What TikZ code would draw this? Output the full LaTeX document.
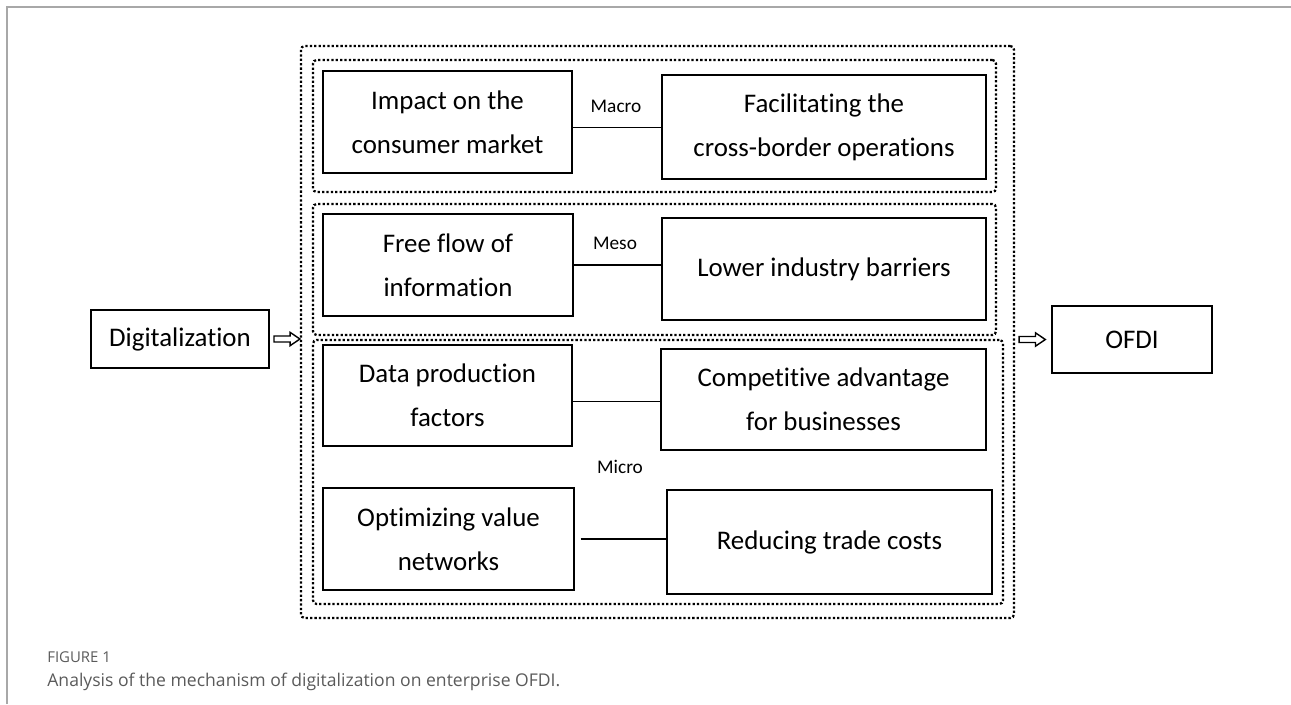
\documentclass[tikz,border=0pt]{standalone}
\usepackage{fontspec}
\setmainfont{Carlito}[Ligatures=NoCommon]
\newfontfamily\capfont{Open Sans}
\usetikzlibrary{arrows.meta}
\definecolor{capgray}{HTML}{5A5A5A}
\definecolor{framegray}{HTML}{A8A8A8}
\tikzset{
  box/.style={draw, line width=0.8pt, align=center, inner sep=0pt,
    font=\fontsize{15.3}{25}\selectfont},
  panel/.style={draw, line width=1.3pt, dash pattern=on 1.3pt off 1.2pt,
    rounded corners=2pt, inner sep=0pt},
  link/.style={line width=0.8pt},
  lvl/.style={font=\fontsize{11}{13}\selectfont},
  hollow/.style={line width=0.8pt, line join=miter, to path={
    ([yshift=1.7pt]\tikztostart) -- ([xshift=-5.6pt,yshift=1.7pt]\tikztotarget)
    -- ([xshift=-5.6pt,yshift=3.8pt]\tikztotarget) -- (\tikztotarget)
    -- ([xshift=-5.6pt,yshift=-3.8pt]\tikztotarget)
    -- ([xshift=-5.6pt,yshift=-1.7pt]\tikztotarget)
    -- ([yshift=-1.7pt]\tikztostart) -- cycle}},
  caption/.style={anchor=base west, inner sep=0pt, text=capgray}
}
\begin{document}
\begin{tikzpicture}[x=0.02cm, y=-0.02cm]
  \useasboundingbox (0,0) rectangle (1291,704);
  \draw[framegray, line width=0.6pt] (7,704) -- (7,7) -- (1291,7);

  % dotted frames
  \node[panel, minimum width=14.26cm, minimum height=11.44cm] (outer) at (657.5,332) {};
  \node[panel, minimum width=13.66cm, minimum height=2.64cm] (macro) at (654.5,126) {};
  \node[panel, minimum width=13.66cm, minimum height=2.62cm] (meso) at (654.5,269.5) {};
  \node[panel, minimum width=13.8cm, minimum height=5.28cm] (micro) at (658,472) {};

  % macro level
  \node[box, minimum width=4.98cm, minimum height=2.04cm] (impact) at (447.5,122)
    {Impact on the\\consumer market};
  \node[box, minimum width=6.48cm, minimum height=2.08cm] (facil) at (824,127)
    {Facilitating the\\cross-border operations};
  \draw[link] ([yshift=-3pt]impact.east) -- ([yshift=-3pt]impact.east -| facil.west);
  \node[lvl] (macrolbl) at (616,106) {Macro};

  % meso level
  \node[box, minimum width=5cm, minimum height=2.04cm] (free) at (448,265)
    {Free flow of\\information};
  \node[box, minimum width=6.48cm, minimum height=2.04cm] (lower) at (824,269)
    {Lower industry barriers};
  \draw[link] (free.east) -- (free.east -| lower.west);
  \node[lvl] (mesolbl) at (615,243) {Meso};

  % micro level
  \node[box, minimum width=4.98cm, minimum height=2.02cm] (data) at (447.5,395.5)
    {Data production\\factors};
  \node[box, minimum width=6.5cm, minimum height=2.02cm] (comp) at (823.5,399.5)
    {Competitive advantage\\for businesses};
  \draw[link] ([yshift=-3.5pt]data.east) -- ([yshift=-3.5pt]data.east -| comp.west);
  \node[lvl] (microlbl) at (620,467) {Micro};
  \node[box, minimum width=5.02cm, minimum height=2.04cm] (optim) at (448.5,539)
    {Optimizing value\\networks};
  \node[box, minimum width=6.5cm, minimum height=2.08cm] (reduce) at (829.5,542)
    {Reducing trade costs};
  \draw[link, shorten <=0.12cm] (optim.east) -- (optim.east -| reduce.west);

  % input and output
  \node[box, line width=1.2pt, minimum width=3.56cm, minimum height=1.16cm] (dig) at (180,339)
    {Digitalization};
  \node[box, minimum width=3.2cm, minimum height=1.34cm] (ofdi) at (1132,339.5) {OFDI};
  \coordinate (inA) at ([xshift=0.08cm]dig.east);
  \coordinate (inB) at (dig.east -| outer.west);
  \coordinate (outA) at ([xshift=0.08cm]ofdi.west -| outer.east);
  \coordinate (outB) at ([xshift=-0.12cm]ofdi.west);
  \draw[hollow] (inA) to (inB);
  \draw[hollow] (outA) to (outB);

  % caption
  \node[caption, font=\capfont\fontsize{8.5}{10}\selectfont] (fignum) at (47,662) {FIGURE 1};
  \node[caption, font=\capfont\fontsize{10}{12}\selectfont] (figcap) at (47,686)
    {Analysis of the mechanism of digitalization on enterprise OFDI.};
\end{tikzpicture}
\end{document}
